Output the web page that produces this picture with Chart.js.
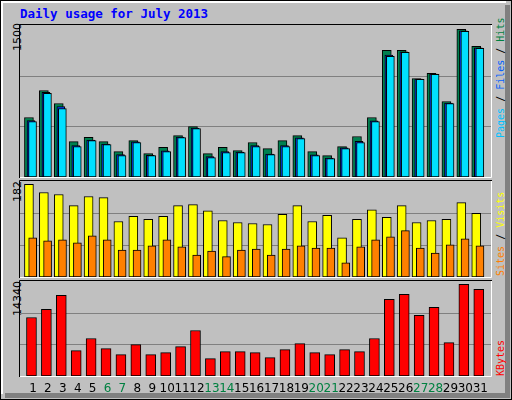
<!DOCTYPE html>
<html><head><meta charset="utf-8">
<script src="https://cdn.jsdelivr.net/npm/chart.js@4"></script>
<style>
html,body{margin:0;padding:0;background:#C0C0C0;}
#wrap{position:relative;width:512px;height:400px;overflow:hidden;background:#C0C0C0;}
#frame{position:absolute;left:0;top:0;width:510px;height:398px;border:1px solid #000;}
#hl{position:absolute;left:1px;top:1px;width:503px;height:391px;border-left:2px solid #fff;border-top:2px solid #fff;}
#shR{position:absolute;left:505px;top:5px;width:5px;height:393px;background:#808080;}
#shB{position:absolute;left:5px;top:393px;width:505px;height:5px;background:#808080;}
canvas{position:absolute;left:0;top:0;}
.t{position:absolute;font-family:"DejaVu Sans Mono",monospace;font-weight:bold;white-space:nowrap;}
.rot{position:absolute;transform-origin:0 0;transform:rotate(-90deg);white-space:nowrap;font-family:"DejaVu Sans Mono",monospace;font-size:10px;}
</style></head><body>
<div id="wrap">
<div id="frame"></div><div id="hl"></div><div id="shR"></div><div id="shB"></div>
<div class="t" style="left:20px;top:6px;font-size:12.5px;color:#0000FF;">Daily usage for July 2013</div>
<div class="rot" style="left:11px;top:51px;color:#000;font-family:'DejaVu Sans';font-size:11px;">1500</div>
<div class="rot" style="left:11px;top:202px;color:#000;font-family:'DejaVu Sans';font-size:11px;">182</div>
<div class="rot" style="left:11px;top:316px;color:#000;font-family:'DejaVu Sans';font-size:11px;">14340</div>
<div class="rot" style="left:495px;top:138px;"><span style="color:#00C0FF">Pages</span><span style="color:#000"> / </span><span style="color:#0060FF">Files</span><span style="color:#000"> / </span><span style="color:#008040">Hits</span></div>
<div class="rot" style="left:495px;top:276px;"><span style="color:#FF8000">Sites</span><span style="color:#000"> / </span><span style="color:#FFFF00">Visits</span></div>
<div class="rot" style="left:495px;top:376px;"><span style="color:#FF0000">KBytes</span></div>
<canvas id="c1" width="512" height="400"></canvas>
<canvas id="c2" width="512" height="400"></canvas>
<canvas id="c3" width="512" height="400"></canvas>
</div>
<script>
const days=[1,2,3,4,5,6,7,8,9,10,11,12,13,14,15,16,17,18,19,20,21,22,23,24,25,26,27,28,29,30,31];
const weekend=[6,7,13,14,20,21,27,28];
const hits=[604,879,747,360,404,360,258,370,238,302,421,512,238,302,268,350,288,370,421,258,217,309,411,604,1286,1286,1001,1052,767,1500,1327];
const files=[573,859,716,320,375,335,227,356,221,265,405,497,207,258,254,318,234,318,398,226,193,296,362,570,1238,1272,994,1046,752,1486,1312];
const pages=[563,849,696,309,370,329,217,350,217,258,400,492,197,248,248,309,227,309,390,217,187,288,350,563,1225,1266,991,1042,747,1480,1307];
const visits=[182,166,162,140,158,156,109,119,113,119,140,142,130,111,107,105,103,123,140,109,121,77,113,132,117,140,107,111,113,146,125];
const sites=[77,71,73,67,81,73,53,53,61,73,59,43,51,40,53,55,43,55,61,57,57,28,59,73,79,91,57,47,63,75,61];
const kbytes=[9159,10415,12614,3978,5862,4292,3350,4920,3350,3664,4606,7118,2722,3821,3821,3664,2879,4135,5077,3664,3350,4135,3821,5862,11986,12771,9474,10730,5234,14340,13556];

const frame={id:'frame',
 beforeDatasetsDraw(ch){const {ctx,chartArea:a,scales:{y}}=ch;ctx.save();ctx.strokeStyle='#808080';ctx.lineWidth=1;
  const m=y.max;[m/3,2*m/3].forEach(v=>{const py=Math.round(y.getPixelForValue(v))+0.5;ctx.beginPath();ctx.moveTo(a.left,py);ctx.lineTo(a.right,py);ctx.stroke();});ctx.restore();},
 afterDraw(ch){const {ctx,chartArea:a}=ch;ctx.save();ctx.lineWidth=1;
  ctx.strokeStyle='#000';ctx.beginPath();ctx.moveTo(a.left-0.5,a.bottom+1);ctx.lineTo(a.left-0.5,a.top-0.5);ctx.lineTo(a.right+1,a.top-0.5);ctx.stroke();
  ctx.strokeStyle='#fff';ctx.beginPath();ctx.moveTo(a.right+0.5,a.top);ctx.lineTo(a.right+0.5,a.bottom+0.5);ctx.lineTo(a.left,a.bottom+0.5);ctx.stroke();
  if(ch.canvas.id==='c3'){const x=ch.scales.x;ctx.font='12px "DejaVu Sans"';ctx.textAlign='center';ctx.textBaseline='middle';
   days.forEach(d=>{ctx.fillStyle=weekend.includes(d)?'#008040':'#000';ctx.fillText(String(d),x.getPixelForValue(d),389);});}
  ctx.restore();}};

function ds(vals,off,color,w,ord){return{data:vals.map((v,i)=>({x:days[i]+off,y:v})),backgroundColor:color,borderColor:'#000',borderWidth:1,barThickness:w,borderSkipped:false,grouped:false,order:ord};}
function mk(id,pad,ymax,sets){
 new Chart(document.getElementById(id),{type:'bar',data:{datasets:sets},
  options:{responsive:false,animation:false,events:[],layout:{padding:pad},
   plugins:{legend:{display:false},tooltip:{enabled:false}},
   scales:{x:{type:'linear',offset:false,min:0.13,max:31.72,display:false},y:{min:0,max:ymax,display:false}}},plugins:[frame]});}
mk('c1',{left:20,right:21,top:25,bottom:223},1544,[ds(hits,-0.27,'#008050',9,3),ds(files,-0.13,'#0040FF',8,2),ds(pages,-0.03,'#00E0FF',8,1)]);
mk('c2',{left:20,right:21,top:181,bottom:123},188.5,[ds(visits,-0.27,'#FFFF00',9,2),ds(sites,-0.02,'#FF8000',8,1)]);
mk('c3',{left:20,right:21,top:281,bottom:24},14864,[ds(kbytes,-0.1,'#FF0000',10,1)]);
</script></body></html>
